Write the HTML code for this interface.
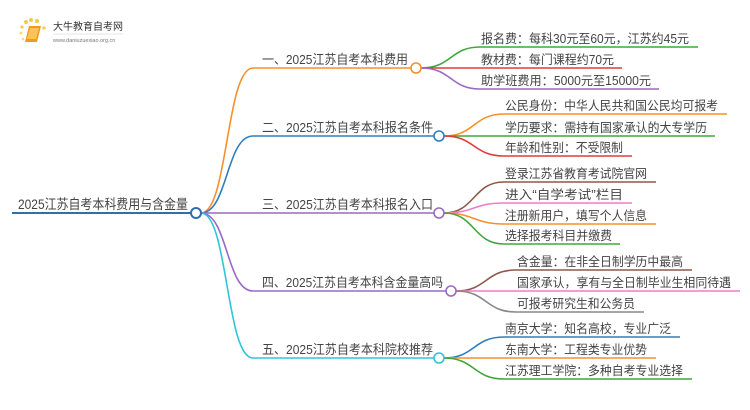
<!DOCTYPE html>
<html><head><meta charset="utf-8"><style>
html,body{margin:0;padding:0;background:#fff;width:750px;height:410px;overflow:hidden}
svg text{font-family:"Liberation Sans","Noto Sans CJK SC",sans-serif;fill:#444}
</style></head><body>
<svg width="750" height="410" viewBox="0 0 750 410" xmlns="http://www.w3.org/2000/svg" fill="none" stroke-width="1.6">
<g>
<circle cx="26" cy="22" r="2" fill="#f7c948" stroke="none"/>
<circle cx="31" cy="20" r="2" fill="#f7c948" stroke="none"/>
<circle cx="37" cy="21" r="2" fill="#f7c948" stroke="none"/>
<circle cx="22" cy="27" r="1.6" fill="#f7c948" stroke="none"/>
<circle cx="21" cy="33" r="1.5" fill="#f9d97a" stroke="none"/>
<circle cx="23" cy="39" r="1.3" fill="#f9d97a" stroke="none"/>
<circle cx="44" cy="28" r="1.6" fill="#f7c948" stroke="none"/>
<path d="M29 26 L41 26 L37 42 L25 42 Z" fill="#f39a1c" stroke="none"/>
<path d="M30 28 L39 28 L36 39 L27 39 Z" fill="#fbc35a" stroke="none"/>
<text x="53" y="30" font-size="10" style="fill:#333">大牛教育自考网</text>
<line x1="53" y1="34" x2="123" y2="34" stroke="#ccc" stroke-width="0.6"/>
<text x="53" y="42" font-size="5.5" style="fill:#777">www.daniuzuexiao.org.cn</text>
</g>
<line x1="12" y1="213" x2="191" y2="213" stroke="#2e6fb0" stroke-width="2"/>
<text x="18" y="209" font-size="13.5" textLength="170" lengthAdjust="spacingAndGlyphs">2025江苏自考本科费用与含金量</text>
<path d="M201,213 C228,213 226,68 253,68 L411,68" stroke="#f7902b"/>
<path d="M201,213 C228,213 226,136 253,136 L434,136" stroke="#2e7ebf"/>
<path d="M201,213 L434,213" stroke="#9a6ac4"/>
<path d="M201,213 C228,213 226,291 253,291 L446,291" stroke="#9a6ac4"/>
<path d="M201,213 C228,213 226,358 253,358 L434,358" stroke="#2ec6d8"/>
<circle cx="196" cy="213" r="5" fill="#fff" stroke="#2e6fb0" stroke-width="2"/>
<g font-size="13" lengthAdjust="spacingAndGlyphs">
<text x="262" y="64" textLength="146" lengthAdjust="spacingAndGlyphs">一、2025江苏自考本科费用</text>
<text x="262" y="132" textLength="171" lengthAdjust="spacingAndGlyphs">二、2025江苏自考本科报名条件</text>
<text x="262" y="209" textLength="171" lengthAdjust="spacingAndGlyphs">三、2025江苏自考本科报名入口</text>
<text x="262" y="287" textLength="181" lengthAdjust="spacingAndGlyphs">四、2025江苏自考本科含金量高吗</text>
<text x="262" y="354" textLength="171" lengthAdjust="spacingAndGlyphs">五、2025江苏自考本科院校推荐</text>
</g>
<path d="M421,68 C452,68 450,47 480,47 L698,47" stroke="#3ea83a"/>
<path d="M421,68 L622,68" stroke="#e03c3c"/>
<path d="M421,68 C452,68 450,89 480,89 L659,89" stroke="#9a6ac4"/>
<circle cx="416" cy="68" r="5" fill="#fff" stroke="#f7902b" stroke-width="1.6"/>
<path d="M444,136 C475,136 473,114 504,114 L727,114" stroke="#f7902b"/>
<path d="M444,136 L715,136" stroke="#3ea83a"/>
<path d="M444,136 C475,136 473,156 504,156 L632,156" stroke="#e03c3c"/>
<circle cx="439" cy="136" r="5" fill="#fff" stroke="#2e7ebf" stroke-width="1.6"/>
<path d="M444,213 C475,213 473,182 504,182 L656,182" stroke="#8b5a4a"/>
<path d="M444,213 C475,213 473,203 504,203 L632,203" stroke="#ee7fc8"/>
<path d="M444,213 C475,213 473,224 504,224 L656,224" stroke="#f7902b"/>
<path d="M444,213 C475,213 473,244 504,244 L620,244" stroke="#3ea83a"/>
<circle cx="439" cy="213" r="5" fill="#fff" stroke="#9a6ac4" stroke-width="1.6"/>
<path d="M456,291 C487,291 485,270 516,270 L692,270" stroke="#8b5a4a"/>
<path d="M456,291 L740,291" stroke="#ee7fc8"/>
<path d="M456,291 C487,291 485,312 516,312 L644,312" stroke="#888"/>
<circle cx="451" cy="291" r="5" fill="#fff" stroke="#9a6ac4" stroke-width="1.6"/>
<path d="M444,358 C475,358 473,337 504,337 L680,337" stroke="#2e7ebf"/>
<path d="M444,358 L656,358" stroke="#f7902b"/>
<path d="M444,358 C475,358 473,379 504,379 L692,379" stroke="#3ea83a"/>
<circle cx="439" cy="358" r="5" fill="#fff" stroke="#2ec6d8" stroke-width="1.6"/>
<g font-size="12.5">
<text x="481" y="43" textLength="208" lengthAdjust="spacingAndGlyphs">报名费：每科30元至60元，江苏约45元</text>
<text x="481" y="64" textLength="133" lengthAdjust="spacingAndGlyphs">教材费：每门课程约70元</text>
<text x="481" y="85" textLength="170" lengthAdjust="spacingAndGlyphs">助学班费用：5000元至15000元</text>
<text x="505" y="110" textLength="213" lengthAdjust="spacingAndGlyphs">公民身份：中华人民共和国公民均可报考</text>
<text x="505" y="132" textLength="202" lengthAdjust="spacingAndGlyphs">学历要求：需持有国家承认的大专学历</text>
<text x="505" y="152" textLength="118" lengthAdjust="spacingAndGlyphs">年龄和性别：不受限制</text>
<text x="505" y="178" textLength="142" lengthAdjust="spacingAndGlyphs">登录江苏省教育考试院官网</text>
<text x="505" y="199" textLength="118" lengthAdjust="spacingAndGlyphs">进入“自学考试”栏目</text>
<text x="505" y="220" textLength="142" lengthAdjust="spacingAndGlyphs">注册新用户，填写个人信息</text>
<text x="505" y="240" textLength="107" lengthAdjust="spacingAndGlyphs">选择报考科目并缴费</text>
<text x="517" y="266" textLength="166" lengthAdjust="spacingAndGlyphs">含金量：在非全日制学历中最高</text>
<text x="517" y="287" textLength="214" lengthAdjust="spacingAndGlyphs">国家承认，享有与全日制毕业生相同待遇</text>
<text x="517" y="308" textLength="118" lengthAdjust="spacingAndGlyphs">可报考研究生和公务员</text>
<text x="505" y="333" textLength="166" lengthAdjust="spacingAndGlyphs">南京大学：知名高校，专业广泛</text>
<text x="505" y="354" textLength="142" lengthAdjust="spacingAndGlyphs">东南大学：工程类专业优势</text>
<text x="505" y="375" textLength="178" lengthAdjust="spacingAndGlyphs">江苏理工学院：多种自考专业选择</text>
</g>
</svg>
</body></html>
